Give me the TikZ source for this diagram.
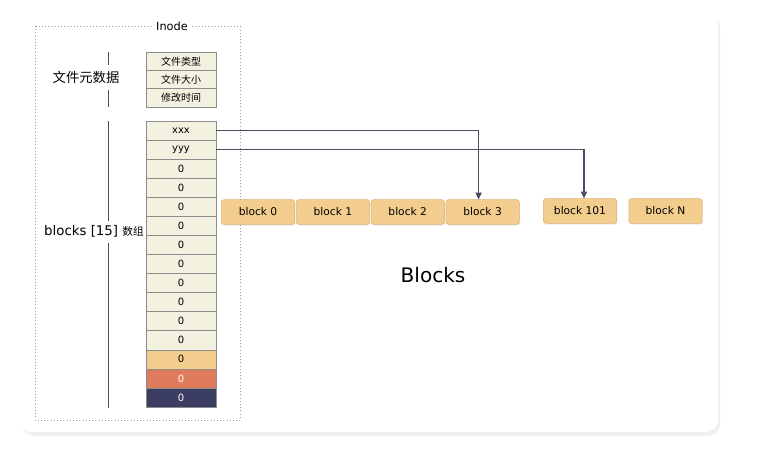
\documentclass[tikz,border=0pt]{standalone}
\usepackage{fontspec}
\setmainfont{DejaVu Sans}
\newfontfamily\cjk{Noto Sans CJK SC}
\usetikzlibrary{arrows.meta, positioning, shadows}

\definecolor{cellcream}{HTML}{F3F1E0}
\definecolor{cellline}{HTML}{8C8C8C}
\definecolor{blkorange}{HTML}{F3CD8E}
\definecolor{blkline}{HTML}{DDB277}
\definecolor{cellred}{HTML}{E07A5D}
\definecolor{cellnavy}{HTML}{3B3D62}
\definecolor{linknavy}{HTML}{4B4B63}

\tikzset{
  cell/.style={draw=cellline, fill=cellcream, minimum width=52.5pt, minimum height=14.3pt,
    inner sep=0pt, outer sep=0pt, font=\fontsize{7.5}{9}\selectfont},
  metacell/.style={cell, minimum height=13.75pt, font=\cjk\fontsize{7.5}{9}\selectfont},
  blockbox/.style={draw=blkline, fill=blkorange, rounded corners=2pt, minimum width=55pt,
    minimum height=18.5pt, inner sep=0pt, font=\fontsize{8}{10}\selectfont,
    drop shadow={shadow xshift=0.6pt, shadow yshift=-0.9pt, opacity=0.18}},
  brace/.style={draw=linknavy, line width=0.6pt},
  link/.style={draw=linknavy, line width=0.8pt, -{Triangle[length=5pt, width=4.5pt]}}
}

\begin{document}
\begin{tikzpicture}[x=0.75pt, y=-0.75pt, font=\small]
    \useasboundingbox (0,0) rectangle (760,453);
    % card
    \fill[white, rounded corners=9pt, drop shadow={shadow xshift=1.5pt, shadow yshift=-3pt, opacity=0.12}]
        (20,10) rectangle (718,432);

    % inode frame
    \draw[gray!80, dotted] (35,26) rectangle (240,420);
    \node[fill=white, inner sep=1.5pt, font=\fontsize{8.5}{10}\selectfont] (inode) at (172,26) {Inode};

    % metadata
    \node[metacell, anchor=north] (m1) at (181,52) {文件类型};
    \node[metacell, below=0pt of m1] (m2) {文件大小};
    \node[metacell, below=0pt of m2] (m3) {修改时间};
    \node[font=\cjk\fontsize{10}{12}\selectfont] (meta) at (86,77) {文件元数据};
    \draw[brace] (108,52) -- (108,65);
    \draw[brace] (108,90) -- (108,107);

    % blocks[15]
    \node[cell, anchor=north] (a1) at (181,121) {xxx};
    \node[cell, below=0pt of a1] (a2) {yyy};
    \node[cell, below=0pt of a2] (a3) {0};
    \node[cell, below=0pt of a3] (a4) {0};
    \node[cell, below=0pt of a4] (a5) {0};
    \node[cell, below=0pt of a5] (a6) {0};
    \node[cell, below=0pt of a6] (a7) {0};
    \node[cell, below=0pt of a7] (a8) {0};
    \node[cell, below=0pt of a8] (a9) {0};
    \node[cell, below=0pt of a9] (a10) {0};
    \node[cell, below=0pt of a10] (a11) {0};
    \node[cell, below=0pt of a11] (a12) {0};
    \node[cell, below=0pt of a12, fill=blkorange] (a13) {0};
    \node[cell, below=0pt of a13, fill=cellred, text=white] (a14) {0};
    \node[cell, below=0pt of a14, fill=cellnavy, text=white] (a15) {0};
    \node[anchor=east, inner sep=0pt, font=\fontsize{10}{12}\selectfont] (arr) at (144,231)
        {blocks [15] {\cjk\fontsize{8}{10}\selectfont 数组}};
    \draw[brace] (108,121) -- (108,221);
    \draw[brace] (108,243) -- (108,408);

    % data blocks
    \node[blockbox] (blk0) at (258,212) {block 0};
    \node[blockbox, right=0.75pt of blk0] (blk1) {block 1};
    \node[blockbox, right=0.75pt of blk1] (blk2) {block 2};
    \node[blockbox, right=0.75pt of blk2] (blk3) {block 3};
    \node[blockbox] (blk101) at (580,211) {block 101};
    \node[blockbox] (blkN) at (665.5,211) {block N};
    \node[font=\fontsize{15}{18}\selectfont] (title) at (433,275) {Blocks};

    % pointers
    \draw[link] (a1.east) -| ([xshift=-3pt]blk3.north);
    \draw[link] (a2.east) -| ([xshift=3pt]blk101.north);
\end{tikzpicture}
\end{document}
